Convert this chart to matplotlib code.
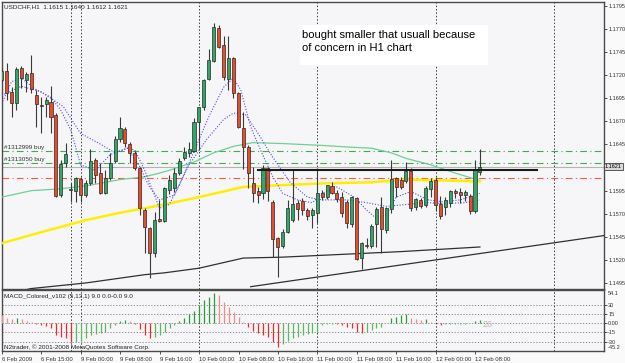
# USDCHF H1 chart with MACD panel, MetaTrader style

import numpy as np
import matplotlib
matplotlib.use("Agg")
from matplotlib import pyplot as plt

plt.rcParams['font.family'] = ['Liberation Sans', 'DejaVu Sans']

# candles (bar index = position in list)
opens = [1.1715, 1.1725, 1.1702, 1.1690, 1.1728, 1.1715, 1.1722, 1.1699, 1.1688, 1.1689,
         1.1691, 1.1677, 1.1590, 1.1625, 1.1597, 1.1595, 1.1608, 1.1590, 1.1603, 1.1628,
         1.1614, 1.1592, 1.1609, 1.1627, 1.1651, 1.1662, 1.1646, 1.1636, 1.1620, 1.1574,
         1.1555, 1.1528, 1.1564, 1.1562, 1.1596, 1.1598, 1.1614, 1.1630, 1.1636, 1.1638,
         1.1669, 1.1686, 1.1716, 1.1735, 1.1771, 1.1753, 1.1716, 1.1739, 1.1701, 1.1663,
         1.1642, 1.1603, 1.1595, 1.1592, 1.1620, 1.1583, 1.1544, 1.1535, 1.1550, 1.1563,
         1.1582, 1.1584, 1.1574, 1.1569, 1.1571, 1.1592, 1.1588, 1.1600, 1.1592, 1.1588,
         1.1583, 1.1559, 1.1587, 1.1522, 1.1536, 1.1535, 1.1559, 1.1577, 1.1552, 1.1575,
         1.1609, 1.1607, 1.1605, 1.1616, 1.1577, 1.1585, 1.1580, 1.1597, 1.1607, 1.1581,
         1.1577, 1.1582, 1.1595, 1.1594, 1.1590, 1.1589, 1.1573, 1.1615]
highs = [1.1728, 1.1733, 1.1707, 1.1729, 1.1730, 1.1724, 1.1742, 1.1704, 1.1696, 1.1696,
         1.1708, 1.1679, 1.1628, 1.1647, 1.1603, 1.1610, 1.1610, 1.1607, 1.1640, 1.1630,
         1.1625, 1.1617, 1.1636, 1.1654, 1.1675, 1.1664, 1.1648, 1.1638, 1.1621, 1.1576,
         1.1556, 1.1572, 1.1585, 1.1599, 1.1612, 1.1620, 1.1630, 1.1642, 1.1648, 1.1674,
         1.1686, 1.1716, 1.1748, 1.1777, 1.1774, 1.1763, 1.1763, 1.1740, 1.1702, 1.1680,
         1.1644, 1.1621, 1.1599, 1.1623, 1.1621, 1.1585, 1.1545, 1.1553, 1.1585, 1.1617,
         1.1585, 1.1587, 1.1576, 1.1576, 1.1620, 1.1596, 1.1601, 1.1604, 1.1596, 1.1594,
         1.1585, 1.1589, 1.1588, 1.1539, 1.1544, 1.1559, 1.1577, 1.1588, 1.1577, 1.1628,
         1.1610, 1.1610, 1.1626, 1.1620, 1.1587, 1.1587, 1.1600, 1.1609, 1.1610, 1.1589,
         1.1588, 1.1596, 1.1597, 1.1598, 1.1596, 1.1591, 1.1628, 1.1640]
lows = [1.1713, 1.1693, 1.1675, 1.1682, 1.1706, 1.1702, 1.1701, 1.1664, 1.1657, 1.1675,
        1.1657, 1.1588, 1.1588, 1.1621, 1.1583, 1.1583, 1.1583, 1.1588, 1.1601, 1.1603,
        1.1591, 1.1591, 1.1607, 1.1625, 1.1648, 1.1642, 1.1625, 1.1617, 1.1569, 1.1528,
        1.1500, 1.1523, 1.1561, 1.1561, 1.1591, 1.1594, 1.1612, 1.1628, 1.1631, 1.1637,
        1.1639, 1.1682, 1.1715, 1.1734, 1.1750, 1.1715, 1.1704, 1.1695, 1.1663, 1.1618,
        1.1598, 1.1583, 1.1582, 1.1586, 1.1584, 1.1523, 1.1502, 1.1533, 1.1549, 1.1561,
        1.1563, 1.1569, 1.1563, 1.1555, 1.1560, 1.1585, 1.1586, 1.1591, 1.1583, 1.1567,
        1.1555, 1.1556, 1.1520, 1.1510, 1.1533, 1.1533, 1.1534, 1.1528, 1.1549, 1.1571,
        1.1588, 1.1597, 1.1603, 1.1573, 1.1574, 1.1576, 1.1577, 1.1588, 1.1573, 1.1564,
        1.1569, 1.1577, 1.1587, 1.1582, 1.1584, 1.1570, 1.1571, 1.1612]
closes = [1.1725, 1.1701, 1.1690, 1.1727, 1.1717, 1.1721, 1.1705, 1.1689, 1.1687, 1.1693,
          1.1675, 1.1589, 1.1624, 1.1635, 1.1596, 1.1609, 1.1590, 1.1603, 1.1627, 1.1612,
          1.1592, 1.1609, 1.1625, 1.1651, 1.1663, 1.1647, 1.1636, 1.1620, 1.1576, 1.1556,
          1.1528, 1.1563, 1.1562, 1.1598, 1.1607, 1.1614, 1.1627, 1.1637, 1.1640, 1.1669,
          1.1686, 1.1715, 1.1737, 1.1772, 1.1751, 1.1718, 1.1739, 1.1701, 1.1664, 1.1642,
          1.1614, 1.1592, 1.1590, 1.1620, 1.1595, 1.1543, 1.1534, 1.1550, 1.1576, 1.1581,
          1.1575, 1.1574, 1.1568, 1.1574, 1.1592, 1.1588, 1.1601, 1.1592, 1.1586, 1.1571,
          1.1560, 1.1588, 1.1521, 1.1538, 1.1535, 1.1557, 1.1575, 1.1553, 1.1576, 1.1608,
          1.1599, 1.1599, 1.1616, 1.1576, 1.1586, 1.1578, 1.1598, 1.1605, 1.1580, 1.1568,
          1.1585, 1.1595, 1.1592, 1.1590, 1.1594, 1.1573, 1.1617, 1.1621]

# MACD histogram, one value per bar
macd = [13.5, 8, 6.5, 8, 6.5, 4.3, 2.7, -1.6, -3.2, -4.9,
        -7, -19, -23, -24, -31, -30, -28.6, -24, -19, -18,
        -16, -13.5, -8, -2.7, 3.8, 5.4, 3.8, -1.6, -9.7, -19,
        -24, -21.6, -19, -13.5, -8, -2.7, 3.8, 9, 14.6, 20,
        29.7, 37.8, 43, 48.6, 45.9, 35, 27, 19, 10.8, 1.6,
        -5.4, -12.4, -16, -19, -23, -30, -39.4, -34, -28.6, -24,
        -21.6, -19, -18, -16, -14.6, -2.7, -1.6, -0.5, -1, -2.7,
        -5.4, -8, -13.5, -16, -15, -10.8, -7, -5.4, 0, 8,
        10.8, 13.5, 14.6, 9, 7, 6, 6.5, 2.7, 0, -2.7,
        -2, -1.6, -1, -0.5, -0.5, 0.5, 3.8, 6]

# moving averages (bar index, price)
fast_x = [0, 2, 4, 6.5, 10, 12, 14, 16, 19, 22, 25.5, 27, 29, 31, 32, 34, 36, 38, 40, 42,
          45, 47, 48.5, 50.5, 52.5, 55, 57, 60, 63, 65, 68, 71.5, 74, 76, 78, 80, 83, 86.5,
          89.5, 93, 97]
fast_y = [1.1689, 1.1713, 1.1717, 1.1706, 1.1696, 1.1682, 1.1661, 1.1623, 1.1617, 1.1634,
          1.1641, 1.1639, 1.1617, 1.1590, 1.1576, 1.1580, 1.1601, 1.1625, 1.1650, 1.1675,
          1.1707, 1.1717, 1.1704, 1.1664, 1.1639, 1.1610, 1.1592, 1.1585, 1.1582, 1.1592,
          1.1599, 1.1588, 1.1574, 1.1565, 1.1569, 1.1588, 1.1594, 1.1585, 1.1583, 1.1585,
          1.1592]
slow_x = [0, 4, 8, 12.5, 16, 19.5, 23, 25.5, 28, 30, 32, 35, 38, 41.5, 45, 47, 49.5, 52, 55,
          58.5, 62, 65, 70, 74, 78, 82, 86, 90, 94, 97]
slow_y = [1.1698, 1.1708, 1.1702, 1.1686, 1.1657, 1.1647, 1.1636, 1.1641, 1.1621, 1.1599,
          1.1585, 1.1590, 1.1623, 1.1650, 1.1672, 1.1679, 1.1677, 1.1657, 1.1631, 1.1604,
          1.1588, 1.1585, 1.1585, 1.1582, 1.1578, 1.1580, 1.1582, 1.1581, 1.1582, 1.1585]
green_x = [0, 6, 12, 18, 24, 29, 32, 34, 39, 43, 47, 51, 57, 65, 71, 75, 79, 82, 87, 92, 97]
green_y = [1.1588, 1.1595, 1.1597, 1.1601, 1.1607, 1.1610, 1.1614, 1.1617, 1.1626, 1.1636,
           1.1643, 1.1647, 1.1646, 1.1644, 1.1642, 1.1641, 1.1636, 1.1630, 1.1623, 1.1614,
           1.1606]
yellow_x = [0, 8, 17, 24, 33, 40, 49, 57, 66, 75, 82, 97]
yellow_y = [1.1538, 1.1550, 1.1563, 1.1571, 1.1580, 1.1588, 1.1599, 1.1601, 1.1603, 1.1604,
            1.1607, 1.1605]
dark_x = [0, 6, 17, 29, 33, 40, 49, 57, 65, 81, 97]
dark_y = [1.1482, 1.1489, 1.1495, 1.1504, 1.1506, 1.1511, 1.1522, 1.1523, 1.1525, 1.1529, 1.1534]
trend_x = [50.5, 123]
trend_y = [1.1491, 1.1547]

# horizontal levels
order1 = 1.1638
order2 = 1.1625
stop_level = 1.1609
bid = 1.1621
resist_level = 1.1617
resist_x = [52, 108.6]

price_ticks = [1.1795, 1.1770, 1.1745, 1.1720, 1.1695, 1.1670, 1.1645,
               1.1595, 1.1570, 1.1545, 1.1520, 1.1495]
macd_ticks = [30, 15, 0, -15, -30]
macd_tick_labels = ['30', '15', '0.00', '-15', '-30']

label_bars = [0, 8, 16, 24, 32, 40, 48, 56, 64, 72, 80, 88, 96]
date_labels = ['6 Feb 2009', '6 Feb 15:00', '9 Feb 00:00', '9 Feb 08:00', '9 Feb 16:00',
               '10 Feb 00:00', '10 Feb 08:00', '10 Feb 16:00', '11 Feb 00:00',
               '11 Feb 08:00', '11 Feb 16:00', '12 Feb 00:00', '12 Feb 08:00']
day_separators = [14, 16, 40, 64, 88, 112]

W, H = 625, 363
BG = '#f6f6f8'
EDGE = '#4a4a4a'
XLIM = (0.06, 122.17)
AXFONT = 4.0


def px_axes(left, top, right, bottom):
    return [left / W, 1 - bottom / H, (right - left) / W, (bottom - top) / H]


def style_axes(ax):
    ax.set_facecolor(BG)
    for s in ax.spines.values():
        s.set_color(EDGE)
        s.set_linewidth(1.0)
    ax.set_xlim(*XLIM)
    for d in day_separators:
        ax.axvline(d, color='#3c3c3c', lw=0.7, ls=(0, (1.5, 2)), zorder=1)


def draw_price_panel(fig):
    ax = fig.add_axes(px_axes(2, 2, 604, 289))
    style_axes(ax)
    ax.set_ylim(1.14885, 1.17993)

    # horizontal order / level lines
    ax.axhline(order1, color='#3fae49', lw=0.8, ls=(0, (6, 3, 1, 3)), zorder=2)
    ax.axhline(order2, color='#3fae49', lw=0.8, ls=(0, (6, 3, 1, 3)), zorder=2)
    ax.axhline(bid, color='#b4b4b4', lw=0.8, zorder=2)
    ax.axhline(stop_level, color='#ff5a2e', lw=0.8, ls=(0, (6, 3, 1, 3)), zorder=2)

    # moving averages and trend line
    ax.plot(green_x, green_y, color='#6fcf97', lw=0.9, zorder=3)
    ax.plot(yellow_x, yellow_y, color='#ffee00', lw=1.8, zorder=3)
    ax.plot(dark_x, dark_y, color='#303030', lw=0.9, zorder=3)
    ax.plot(trend_x, trend_y, color='#303030', lw=0.9, zorder=3)
    ax.plot(slow_x, slow_y, color='#5050e0', lw=0.8, ls=(0, (1, 1.5)), zorder=3)
    ax.plot(fast_x, fast_y, color='#5050e0', lw=0.8, ls=(0, (1, 1.5)), zorder=3)

    # candles
    x = np.arange(len(closes))
    o = np.array(opens)
    c = np.array(closes)
    up = c >= o
    body = np.where(np.abs(c - o) < 0.00005, np.where(up, 0.00005, -0.00005), c - o)
    ax.vlines(x, lows, highs, color='#3a3a3a', lw=0.8, zorder=4)
    ax.bar(x, body, bottom=o, width=0.62, color=np.where(up, '#2fa866', '#ec4a2a'),
           edgecolor='#2a2a2a', linewidth=0.5, zorder=5)

    ax.plot(resist_x, [resist_level, resist_level], color='#1a1a1a', lw=1.5, zorder=6)

    # axis
    ax.set_xticks([])
    ax.yaxis.tick_right()
    ax.set_yticks(price_ticks)
    ax.set_yticklabels(['%.4f' % p for p in price_ticks])
    ax.tick_params(axis='y', direction='out', length=2, width=0.6, pad=1,
                   labelsize=AXFONT, colors='#333333')
    ax.text(1.0015, bid, '%.4f' % bid, transform=ax.get_yaxis_transform(),
            fontsize=AXFONT, va='center', ha='left', color='black',
            bbox=dict(boxstyle='square,pad=0.2', fc='#d9d9d9', ec='#404040', lw=0.6))

    # texts
    ax.text(0.004, 0.982, 'USDCHF,H1  1.1615 1.1640 1.1612 1.1621', transform=ax.transAxes,
            fontsize=4.6, va='center', ha='left', color='#222222')
    ax.text(0.5, order1 + 0.00005, '#1312999 buy', fontsize=4.6, va='bottom', ha='left',
            color='#333333', zorder=7)
    ax.text(0.5, order2 + 0.00005, '#1313050 buy', fontsize=4.6, va='bottom', ha='left',
            color='#333333', zorder=7)

    box = plt.Rectangle((0.495, 0.780), 0.312, 0.140, transform=ax.transAxes,
                        facecolor='white', edgecolor='none', zorder=6)
    ax.add_patch(box)
    ax.text(0.499, 0.885, 'bought smaller that usuall because', transform=ax.transAxes,
            fontsize=8, va='center', ha='left', color='black', zorder=7)
    ax.text(0.499, 0.840, 'of concern in H1 chart', transform=ax.transAxes,
            fontsize=8, va='center', ha='left', color='black', zorder=7)
    return ax


def draw_macd_panel(fig):
    ax = fig.add_axes(px_axes(2, 290, 604, 351))
    style_axes(ax)
    ax.set_ylim(-45.2, 54.1)

    for lv in macd_ticks:
        ax.axhline(lv, color='#7a7a7a', lw=0.6, ls=(0, (1.5, 2)), zorder=1)

    h = np.array(macd)
    prev = np.concatenate([[h[0] + 1], h[:-1]])
    rising = h >= prev
    colors = np.where(rising, np.where(h > 0, '#2f9a3f', '#5db85f'),
                      np.where(h > 0, '#f58a8a', '#f02828'))
    x = np.arange(len(h))
    ax.vlines(x, 0, h, colors=colors, lw=0.9, zorder=3)

    ax.yaxis.tick_right()
    ax.set_yticks(macd_ticks)
    ax.set_yticklabels(macd_tick_labels)
    ax.tick_params(axis='y', direction='out', length=2, width=0.6, pad=1,
                   labelsize=AXFONT, colors='#333333')
    ax.text(1.006, 0.95, '54.1', transform=ax.transAxes, fontsize=AXFONT, va='center',
            ha='left', color='#333333')
    ax.text(1.006, 0.05, '-45.2', transform=ax.transAxes, fontsize=AXFONT, va='center',
            ha='left', color='#333333')

    ax.set_xticks(label_bars)
    ax.set_xticklabels(date_labels, ha='left')
    ax.tick_params(axis='x', direction='out', length=2.5, width=0.6, pad=1.5,
                   labelsize=4.3, colors='#333333')

    ax.text(0.004, 0.90, 'MACD_Colored_v102 (5,13,1) 9.0 0.0-0.0 9.0', transform=ax.transAxes,
            fontsize=4.6, va='center', ha='left', color='#222222')
    ax.text(0.004, 0.07, 'N2trader, \u00a9 2001-2008 MetaQuotes Software Corp.',
            transform=ax.transAxes, fontsize=4.6, va='center', ha='left', color='#222222')
    ax.text(97.6, -2, '26', fontsize=6.5, va='center', ha='left', color='#bdbdbd')
    return ax


if __name__ == "__main__":
    fig = plt.figure(figsize=(W / 100, H / 100), dpi=100, facecolor='#fafafa')
    draw_price_panel(fig)
    draw_macd_panel(fig)
    fig.savefig('out.png', dpi=100, facecolor=fig.get_facecolor())
